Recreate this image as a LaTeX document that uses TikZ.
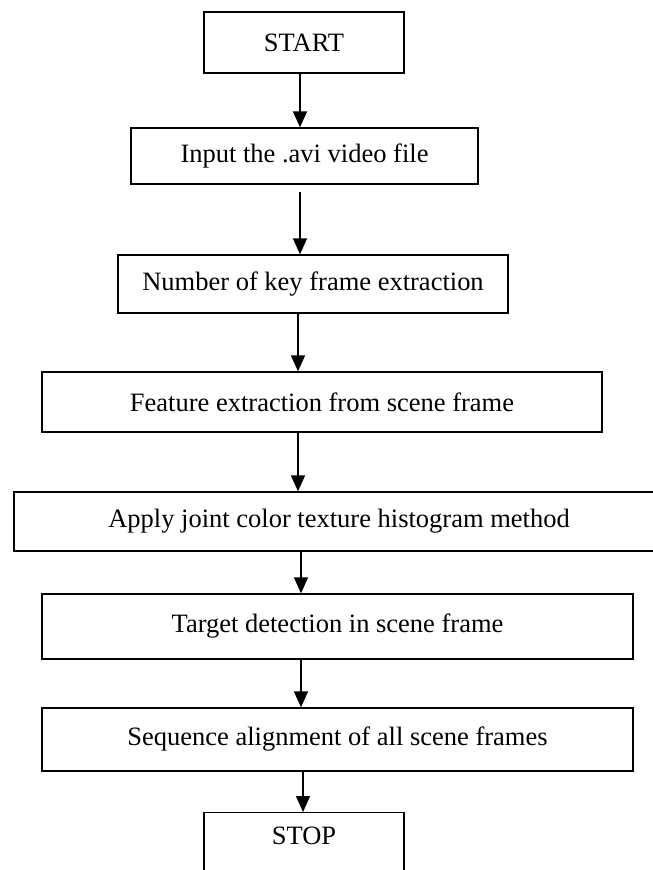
\documentclass[tikz,border=0pt]{standalone}
\usepackage{fontspec}
\setmainfont{Liberation Serif}
\usetikzlibrary{arrows.meta}
\begin{document}
\begin{tikzpicture}[x=1pt,y=-1pt,
  box/.style={draw=black, line width=1.3pt, rectangle, inner sep=0pt, align=center,
    font=\fontsize{26.5}{30}\selectfont},
  arr/.style={line width=1.4pt, -{Triangle[width=14pt,length=16pt]}}]
\path[use as bounding box, clip] (0,0) rectangle (653,870);
\fill[white] (0,0) rectangle (653,870);
\coordinate (ax) at (300,0);
\node[box, minimum width=200pt, minimum height=61pt] (start) at (304,42.5) {START};
\node[box, minimum width=347pt, minimum height=56pt] (input) at (304.5,156) {Input the .avi video file};
\node[box, minimum width=390pt, minimum height=58pt] (number) at (313,284) {Number of key frame extraction};
\node[box, minimum width=560pt, minimum height=60pt] (feature) at (322,402) {Feature extraction from scene frame};
\node[box, minimum width=650pt, minimum height=59pt] (apply) at (339,521.5) {Apply joint color texture histogram method};
\node[box, minimum width=591pt, minimum height=65pt] (target) at (337.5,626.5) {Target detection in scene frame};
\node[box, minimum width=591pt, minimum height=63pt] (sequence) at (337.5,739.5) {Sequence alignment of all scene frames};
\node[box, minimum width=200pt, minimum height=90pt, anchor=north] (stop) at (304,812) {};
\node[font=\fontsize{26.5}{30}\selectfont, inner sep=0pt] (stoplabel) at (304,836) {STOP};
\draw[arr] (start.south -| ax) -- (input.north -| ax);
\draw[arr] ([yshift=-7pt]input.south -| ax) -- (number.north -| ax);
\draw[arr] ([xshift=-2pt]number.south -| ax) -- ([xshift=-2pt]feature.north -| ax);
\draw[arr] ([xshift=-2pt]feature.south -| ax) -- ([xshift=-2pt]apply.north -| ax);
\draw[arr] ([xshift=1pt]apply.south -| ax) -- ([xshift=1pt]target.north -| ax);
\draw[arr] ([xshift=1pt]target.south -| ax) -- ([xshift=1pt]sequence.north -| ax);
\draw[arr] ([xshift=3pt]sequence.south -| ax) -- ([xshift=3pt]stop.north -| ax);
\end{tikzpicture}
\end{document}
